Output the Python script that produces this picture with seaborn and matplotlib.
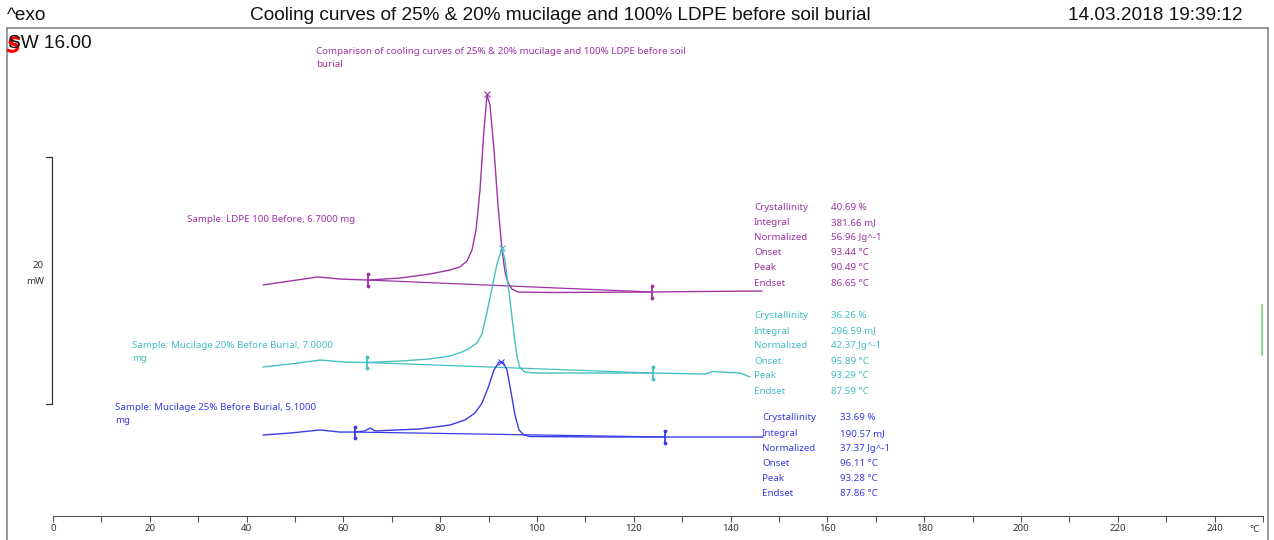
import numpy as np
import pandas as pd
import seaborn as sns
import matplotlib.pyplot as plt
from matplotlib.lines import Line2D

# ---- data (temperature in degC, heat flow in mW, arbitrary offsets) ----
ldpe_T = [43.39, 48.97, 54.75, 59.30, 65.08, 71.69, 77.89, 82.02, 84.09, 85.54, 86.57, 87.40, 88.22,
          89.05, 89.67, 90.29, 91.12, 91.94, 92.77, 93.39, 94.01, 94.83, 96.07, 102.69, 123.35,
          133.68, 146.49]
ldpe_mW = [20.65, 20.97, 21.30, 21.13, 21.05, 21.21, 21.54, 21.86, 22.11, 22.59, 23.48, 25.10, 28.34,
           33.20, 36.03, 35.22, 31.58, 27.13, 23.48, 21.70, 20.81, 20.32, 20.08, 20.04, 20.08,
           20.12, 20.16]

muc20_T = [43.39, 48.97, 55.17, 60.33, 64.88, 71.69, 77.89, 82.02, 84.50, 86.16, 87.60, 88.64, 89.67,
           90.70, 91.74, 92.77, 93.39, 94.21, 95.25, 95.87, 96.49, 97.52, 99.59, 113.02, 123.97,
           134.71, 136.36, 141.94, 144.01]
muc20_mW = [14.01, 14.25, 14.57, 14.41, 14.37, 14.49, 14.66, 14.90, 15.22, 15.55, 15.95, 16.68, 18.46,
            20.40, 22.35, 23.64, 22.67, 20.08, 16.68, 14.82, 13.93, 13.60, 13.52, 13.52, 13.52,
            13.44, 13.64, 13.52, 13.20]

muc25_T = [43.39, 48.97, 55.17, 59.30, 62.40, 64.46, 65.50, 66.53, 75.83, 82.02, 85.12, 87.19, 88.64,
           89.88, 91.12, 92.15, 92.98, 93.80, 94.63, 95.45, 96.28, 97.31, 98.55, 113.02, 126.45,
           146.69]
muc25_mW = [8.50, 8.66, 8.91, 8.74, 8.74, 8.83, 9.07, 8.83, 8.99, 9.31, 9.72, 10.28, 11.09,
            12.31, 13.77, 14.41, 14.41, 13.77, 11.98, 10.12, 8.91, 8.50, 8.38, 8.34, 8.34,
            8.34]

# integration limits (T, mW) and peak points
ldpe_limits = [(65.1, 21.05), (123.8, 20.08)]
muc20_limits = [(64.9, 14.37), (124.0, 13.52)]
muc25_limits = [(62.4, 8.74), (126.4, 8.34)]
peaks = [(89.67, 36.10), (92.77, 23.64), (92.6, 14.45)]

sample_names = ["Sample: LDPE 100 Before, 6.7000 mg",
                "Sample: Mucilage 20% Before Burial, 7.0000\nmg",
                "Sample: Mucilage 25% Before Burial, 5.1000\nmg"]
result_labels = ["Crystallinity", "Integral", "Normalized", "Onset", "Peak", "Endset"]
ldpe_results = ["40.69 %", "381.66 mJ", "56.96 Jg^-1", "93.44 \u00b0C", "90.49 \u00b0C", "86.65 \u00b0C"]
muc20_results = ["36.26 %", "296.59 mJ", "42.37 Jg^-1", "95.89 \u00b0C", "93.29 \u00b0C", "87.59 \u00b0C"]
muc25_results = ["33.69 %", "190.57 mJ", "37.37 Jg^-1", "96.11 \u00b0C", "93.28 \u00b0C", "87.86 \u00b0C"]

x_ticks = list(range(0, 241, 20))

colors = ["#9E34A6", "#45BFC0", "#3B3BE6"]

sns.set_style("white")
plt.rcParams['font.family'] = ['Noto Sans', 'DejaVu Sans']

W, H = 1274, 540
fig = plt.figure(figsize=(W / 100, H / 100), dpi=100)
ax = fig.add_axes([7 / W, 0, (1268 - 7) / W, (540 - 28) / H])

px_per_deg = 4.84
px_per_mW = 12.35
ax.set_xlim((7 - 53) / px_per_deg, (1268 - 53) / px_per_deg)
ax.set_ylim(0, (540 - 28) / px_per_mW)


def fpos(x, y):
    return x / W, 1 - y / H


curves = [(ldpe_T, ldpe_mW, ldpe_limits), (muc20_T, muc20_mW, muc20_limits),
          (muc25_T, muc25_mW, muc25_limits)]
for (T, mW, lim), c in zip(curves, colors):
    df = pd.DataFrame({"T": T, "mW": mW})
    sns.lineplot(data=df, x="T", y="mW", color=c, lw=1.0, sort=False, estimator=None, ax=ax,
                 solid_joinstyle='round')
    # baseline between integration limits
    ax.plot([lim[0][0], lim[1][0]], [lim[0][1], lim[1][1]], color=c, lw=0.9)
    for t, m in lim:
        ax.plot([t, t], [m - 0.45, m + 0.45], color=c, lw=1.3, marker='.', markersize=3.5)

for (t, m), c in zip(peaks, colors):
    ax.plot(t, m, marker='x', color=c, markersize=5, mew=0.8)

# scale bar 20 mW
ax.plot([-1.45, -0.2, -0.2, -1.45], [31.01, 31.01, 11.01, 11.01], color="#333333", lw=0.9)
fig.text(*fpos(44, 265), "20", fontsize=7, ha='right', va='center', color="#333333")
fig.text(*fpos(44, 281), "mW", fontsize=7, ha='right', va='center', color="#333333")

# x axis drawn as the bottom spine inside the frame
ax.spines['bottom'].set_position(('data', (540 - 516) / px_per_mW))
ax.spines['bottom'].set_bounds(0, 250)
ax.spines['bottom'].set_color("#555555")
for s in ['left', 'top', 'right']:
    ax.spines[s].set_color("#888888")
    ax.spines[s].set_linewidth(1.2)
ax.set_xticks(x_ticks)
ax.set_xticks(range(10, 251, 20), minor=True)
ax.tick_params(axis='x', which='both', direction='out', length=4, width=0.8, color="#555555",
               labelsize=7, labelcolor="#333333", pad=2, bottom=True)
ax.set_yticks([])
ax.set_xlabel("")
ax.set_ylabel("")
fig.text(*fpos(1255, 529), "\u00b0C", fontsize=7, ha='center', va='center', color="#333333")

# header
hdr = dict(family=['Liberation Sans', 'DejaVu Sans'], fontsize=13.7, va='center', color="#111111")
fig.text(*fpos(7, 15), "^exo", ha='left', **hdr)
fig.text(*fpos(560, 16), "Cooling curves of 25% & 20% mucilage and 100% LDPE before soil burial",
         ha='center', **hdr)
fig.text(*fpos(1243, 16), "14.03.2018 19:39:12", ha='right', **hdr)
# red instrument glyph behind the "S"
fig.add_artist(Line2D([13 / W], [1 - 44 / H], marker='$S$', color='red', markersize=11,
                      transform=fig.transFigure))
fig.text(*fpos(8, 44), "SW 16.00", ha='left', **hdr)

fig.text(*fpos(316, 58), "Comparison of cooling curves of 25% & 20% mucilage and 100% LDPE before soil\nburial",
         fontsize=7, color=colors[0], ha='left', va='center', linespacing=1.5)

# sample labels
fig.text(*fpos(187, 219), sample_names[0], fontsize=7, color=colors[0], ha='left', va='center')
fig.text(*fpos(132, 352), sample_names[1], fontsize=7, color=colors[1], ha='left', va='center',
         linespacing=1.5)
fig.text(*fpos(115, 414), sample_names[2], fontsize=7, color=colors[2], ha='left', va='center',
         linespacing=1.5)

# result tables
tables = [(ldpe_results, 754, 831, 207, 15.2), (muc20_results, 754, 831, 316, 15.0),
          (muc25_results, 762, 840, 418, 15.2)]
for (vals, xl, xv, y0, dy), c in zip(tables, colors):
    for i, (lab, v) in enumerate(zip(result_labels, vals)):
        fig.text(*fpos(xl, y0 + i * dy), lab, fontsize=7, color=c, ha='left', va='center')
        fig.text(*fpos(xv, y0 + i * dy), v, fontsize=7, color=c, ha='left', va='center')

# green marker at the right edge
ax.plot([(1262 - 53) / px_per_deg] * 2, [(540 - 305) / px_per_mW, (540 - 355) / px_per_mW],
        color="#6CD46C", lw=1.2)

fig.savefig("out.png", dpi=100)
